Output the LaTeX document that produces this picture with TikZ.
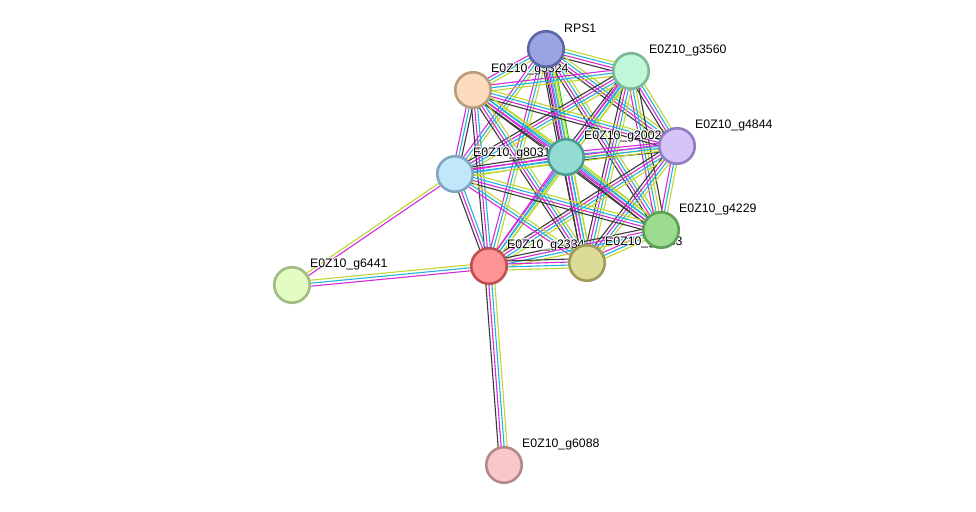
\documentclass[tikz,border=0pt]{standalone}
\usepackage{fontspec}
\setmainfont{Liberation Sans}
\usetikzlibrary{calc}
\pgfdeclarelayer{paper}
\pgfdeclarelayer{edges}
\pgfsetlayers{paper,edges,main}
\definecolor{ek}{HTML}{3A3A3A}
\definecolor{em}{HTML}{D42AD8}
\definecolor{ec}{HTML}{22B4DC}
\definecolor{ey}{HTML}{BED82E}
\definecolor{eg}{HTML}{2CC42C}
\definecolor{nR}{HTML}{9AA4E0}\definecolor{bR}{HTML}{5A66A8}
\definecolor{nA}{HTML}{BFF8D8}\definecolor{bA}{HTML}{7CB894}
\definecolor{nB}{HTML}{FCDCBC}\definecolor{bB}{HTML}{B89C7E}
\definecolor{nC}{HTML}{D4C4F8}\definecolor{bC}{HTML}{907EC0}
\definecolor{nD}{HTML}{92DCD4}\definecolor{bD}{HTML}{4E9C90}
\definecolor{nE}{HTML}{C0E8FA}\definecolor{bE}{HTML}{80A6C0}
\definecolor{nF}{HTML}{9CDC90}\definecolor{bF}{HTML}{5CA054}
\definecolor{nG}{HTML}{DCDC98}\definecolor{bG}{HTML}{A09C58}
\definecolor{nH}{HTML}{FF9494}\definecolor{bH}{HTML}{C05050}
\definecolor{nI}{HTML}{E2FCC2}\definecolor{bI}{HTML}{A0BC80}
\definecolor{nJ}{HTML}{F8C8C8}\definecolor{bJ}{HTML}{B88888}
\tikzset{
  prot/.style 2 args={circle, minimum size=35.5pt, inner sep=0pt, line width=2.6pt, fill=#1, draw=#2},
  lbl/.style={anchor=west, inner sep=0pt, font=\fontsize{12.3}{14}\selectfont},
  edgeline/.style={line width=1.1pt}
}
\newcommand\plabel[3]{% node, label name, text
  \foreach \dx/\dy in {-0.9/0,0.9/0,0/-0.9,0/0.9,-0.65/-0.65,0.65/0.65,-0.65/0.65,0.65/-0.65}{
    \node[lbl, text=white] at ($(#1.center)+(18+\dx,-21+\dy)$) {#3};}
  \node[lbl] (#2) at ($(#1.center)+(18,-21)$) {#3};}
\newcommand\bundle[3]{% from, to, colour list
  \foreach \col [count=\i] in {#3} {\xdef\nn{\i}}%
  \foreach \col [count=\i] in {#3} {%
    \pgfmathsetmacro\off{(\i-(\nn+1)/2)*3.0}%
    \draw[\col, edgeline] ($(#1.center)!\off pt!90:(#2.center)$) -- ($(#2.center)!\off pt!-90:(#1.center)$);
  }}
\begin{document}
\begin{tikzpicture}[x=1pt,y=-1pt]
\begin{pgfonlayer}{paper}
\useasboundingbox[fill=white] (0,0) rectangle (976,511);
\end{pgfonlayer}
% nodes and labels
\node[prot={nB}{bB}] (B) at (473,90) {};  \plabel{B}{lB}{E0Z10\_g5324}
\node[prot={nR}{bR}] (R) at (546,49) {};  \plabel{R}{lR}{RPS1}
\node[prot={nA}{bA}] (A) at (631,71) {};  \plabel{A}{lA}{E0Z10\_g3560}
\node[prot={nE}{bE}] (E) at (455,174) {}; \plabel{E}{lE}{E0Z10\_g8031}
\node[prot={nD}{bD}] (D) at (566,157) {}; \plabel{D}{lD}{E0Z10\_g2002}
\node[prot={nC}{bC}] (C) at (677,146) {}; \plabel{C}{lC}{E0Z10\_g4844}
\node[prot={nH}{bH}] (H) at (489,266) {}; \plabel{H}{lH}{E0Z10\_g2334}
\node[prot={nG}{bG}] (G) at (587,263) {}; \plabel{G}{lG}{E0Z10\_g1333}
\node[prot={nF}{bF}] (F) at (661,230) {}; \plabel{F}{lF}{E0Z10\_g4229}
\node[prot={nI}{bI}] (I) at (292,285) {}; \plabel{I}{lI}{E0Z10\_g6441}
\node[prot={nJ}{bJ}] (J) at (504,465) {}; \plabel{J}{lJ}{E0Z10\_g6088}
% edges
\begin{pgfonlayer}{edges}
\bundle{R}{A}{ek,em,ec,ey}
\bundle{R}{B}{em,ec,ey}
\bundle{R}{C}{ek,em,ec,ey}
\bundle{R}{D}{ek,em,ec,ey,eg}
\bundle{R}{E}{em,ec,ey}
\bundle{R}{F}{ek,em,ec,ey}
\bundle{R}{G}{ek,em,ec,ey}
\bundle{R}{H}{em,ec,ey}
\bundle{A}{B}{em,ec,ey}
\bundle{A}{C}{ek,em,ec,ey}
\bundle{A}{D}{ek,em,ec,ey}
\bundle{A}{E}{ek,em,ec,ey}
\bundle{A}{F}{em,ec,ey,ek}
\bundle{A}{G}{ek,em,ec,ey}
\bundle{A}{H}{em,ec,ey}
\bundle{B}{C}{ek,em,ec,ey}
\bundle{B}{D}{ek,em,ec,ey}
\bundle{B}{E}{em,ec,ek}
\bundle{B}{F}{ek,em,ec,ey}
\bundle{B}{G}{ek,em,ec,ey}
\bundle{B}{H}{ek,em,ec}
\bundle{C}{D}{em,ec,ey,ek}
\bundle{C}{E}{em,ec,ey}
\bundle{C}{F}{em,ec,ey}
\bundle{C}{G}{ek,em,ec,ey}
\bundle{C}{H}{ek,em,ec,ey}
\bundle{D}{E}{ek,em,ec,ey}
\bundle{D}{F}{ek,em,ec,ey}
\bundle{D}{G}{ek,em,ec,ey}
\bundle{D}{H}{em,ec,ey}
\bundle{E}{F}{ek,em,ec,ey}
\bundle{E}{G}{em,ec,ey}
\bundle{E}{H}{ek,em,ec}
\bundle{F}{G}{em,ec,ey}
\bundle{F}{H}{ek,em,ec,ey}
\bundle{G}{H}{ek,em,ec,ey}
\bundle{H}{I}{ey,ec,em}
\bundle{E}{I}{ey,em}
\bundle{H}{J}{ek,em,ec,ey}
\end{pgfonlayer}
\end{tikzpicture}
\end{document}
